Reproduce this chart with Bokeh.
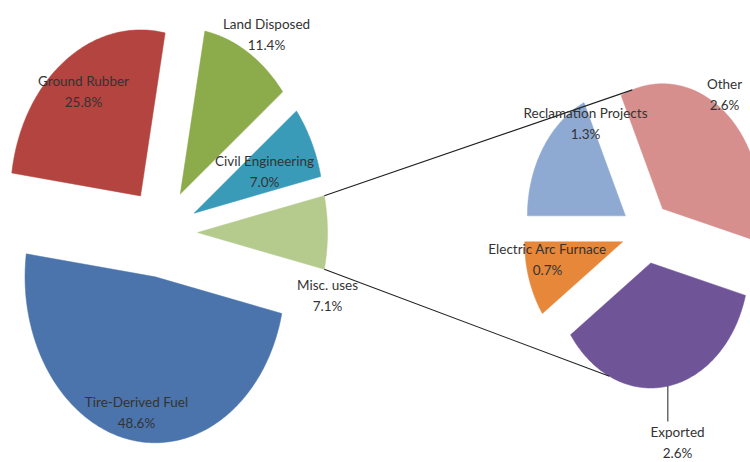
import math
from bokeh.plotting import figure
from bokeh.models import ColumnDataSource
from bokeh.core.properties import value
from bokeh.embed import file_html
from bokeh.resources import INLINE

# ---- data ----
main_labels = ["Misc. uses", "Civil Engineering", "Land Disposed", "Ground Rubber", "Tire-Derived Fuel"]
main_values = [7.1, 7.0, 11.4, 25.8, 48.6]
sub_labels = ["Electric Arc Furnace", "Exported", "Other", "Reclamation Projects"]
sub_values = [0.7, 2.6, 2.6, 1.3]

# ---- styles / layout ----
main_colors = ["#b5cb8e", "#3a9bb8", "#8cab4b", "#b4443f", "#4a74ab"]
sub_colors = ["#e6873a", "#6f5598", "#d68f8d", "#8eaad2"]
H = 462
MAIN = dict(cx=161, cy=H - 232, rx=130, ry=166, ex=36, ey=45)
SUB = dict(cx=646, cy=H - 232, rx=98, ry=125, ex=25, ey=31)
main_label_pos = [(327, 284), (264, 160), (266, 23), (83, 80), (136, 401)]
sub_label_pos = [(547, 248), (677, 431), (724, 83), (585, 112)]
FONT = "Lato"
FSIZE = "13.5px"
TXT = "#333333"


def wedges(vals, start_deg, g):
    total = sum(vals)
    out = []
    a = start_deg
    for v in vals:
        span = v / total * 360.0
        a0, a1 = a, a + span
        mid = math.radians((a0 + a1) / 2)
        tx = g["cx"] + g["ex"] * math.cos(mid)
        ty = g["cy"] + g["ey"] * math.sin(mid)
        n = max(8, int(span))
        xs, ys = [tx], [ty]
        for i in range(n + 1):
            t = math.radians(a0 + (a1 - a0) * i / n)
            xs.append(tx + g["rx"] * math.cos(t))
            ys.append(ty + g["ry"] * math.sin(t))
        out.append(dict(xs=xs, ys=ys, tip=(tx, ty), a0=a0, a1=a1))
        a = a1
    return out


def arc_pt(w, g, deg):
    t = math.radians(deg)
    return (w["tip"][0] + g["rx"] * math.cos(t), w["tip"][1] + g["ry"] * math.sin(t))


main_start = -main_values[0] / sum(main_values) * 360.0 / 2
mw = wedges(main_values, main_start, MAIN)
sw = wedges(sub_values, 180.0, SUB)

p = figure(width=750, height=462, x_range=(0, 750), y_range=(0, H),
           output_backend="svg", toolbar_location=None, min_border=0)
p.axis.visible = False
p.grid.visible = False
p.outline_line_color = None
p.background_fill_color = "white"

src_main = ColumnDataSource(dict(xs=[w["xs"] for w in mw], ys=[w["ys"] for w in mw], color=main_colors))
src_sub = ColumnDataSource(dict(xs=[w["xs"] for w in sw], ys=[w["ys"] for w in sw], color=sub_colors))
p.patches("xs", "ys", source=src_main, fill_color="color", line_color="color", line_width=0.5)
p.patches("xs", "ys", source=src_sub, fill_color="color", line_color="color", line_width=0.5)

# connector lines between the "Misc. uses" slice and the secondary pie
misc = mw[0]
top0 = arc_pt(misc, MAIN, misc["a1"])
bot0 = arc_pt(misc, MAIN, misc["a0"])
top1 = arc_pt(sw[2], SUB, 108)
bot1 = arc_pt(sw[1], SUB, 245)
p.line([top0[0], top1[0]], [top0[1], top1[1]], line_color="#202020", line_width=1.1)
p.line([bot0[0], bot1[0]], [bot0[1], bot1[1]], line_color="#202020", line_width=1.1)

# leader line for "Exported"
exp = sw[1]
lp = arc_pt(exp, SUB, (exp["a0"] + exp["a1"]) / 2)
p.line([lp[0], lp[0]], [lp[1], H - 421], line_color="#202020", line_width=1)

# labels
names, pcts, xs, ys1, ys2 = [], [], [], [], []
for lab, v, (x, y) in list(zip(main_labels, main_values, main_label_pos)) + list(zip(sub_labels, sub_values, sub_label_pos)):
    names.append(lab)
    pcts.append(f"{v:.1f}%")
    xs.append(x)
    ys1.append(H - y)
    ys2.append(H - y - 21)
lsrc = ColumnDataSource(dict(x=xs, y1=ys1, y2=ys2, name=names, pct=pcts))
p.text("x", "y1", text="name", source=lsrc, text_align="center", text_baseline="middle",
       text_font=value(FONT), text_font_size=FSIZE, text_color=TXT)
p.text("x", "y2", text="pct", source=lsrc, text_align="center", text_baseline="middle",
       text_font=value(FONT), text_font_size=FSIZE, text_color=TXT)

open("out.html", "w").write(file_html(p, INLINE))
